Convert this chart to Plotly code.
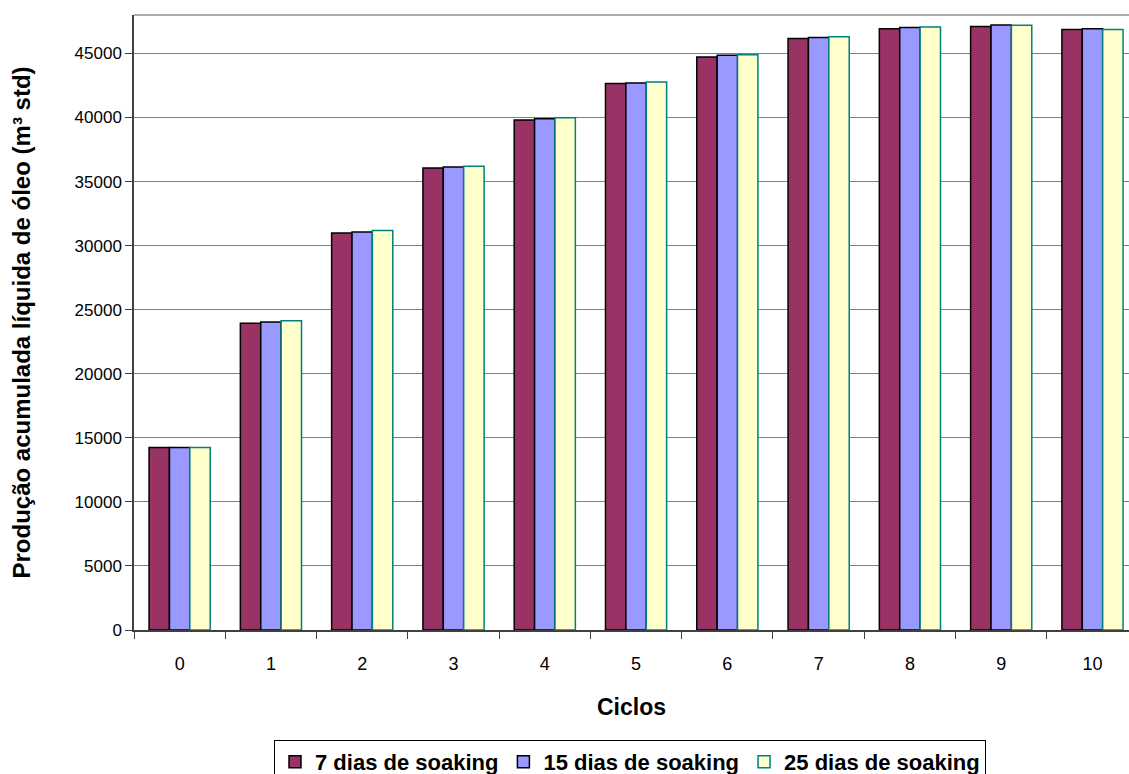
import plotly.graph_objects as go

# Cumulative net oil production per cycle for three soaking durations
ciclos = ["0", "1", "2", "3", "4", "5", "6", "7", "8", "9", "10"]
soak_7 = [14250, 23950, 30990, 36050, 39800, 42650, 44730, 46170, 46920, 47110, 46870]
soak_15 = [14250, 24030, 31070, 36130, 39900, 42700, 44850, 46250, 47030, 47220, 46920]
soak_25 = [14250, 24130, 31190, 36200, 39980, 42780, 44900, 46300, 47060, 47200, 46870]

series_names = ["7 dias de soaking", "15 dias de soaking", "25 dias de soaking"]
fills = ["#993366", "#9999FF", "#FFFFCC"]
outlines = ["#000000", "#000000", "#008080"]

fig = go.Figure()
for name, vals, fc, lc in zip(series_names, [soak_7, soak_15, soak_25], fills, outlines):
    fig.add_trace(go.Bar(
        x=ciclos, y=vals, name=name,
        marker=dict(color=fc, line=dict(color=lc, width=1.5)),
    ))

fig.update_layout(
    width=1129, height=774,
    margin=dict(l=134, r=0, t=15, b=144, autoexpand=False),
    paper_bgcolor="white", plot_bgcolor="white",
    barmode="group", bargap=0.33, bargroupgap=0,
    font=dict(family="Arial, Liberation Sans, sans-serif", color="black", size=18),
    showlegend=True,
    legend=dict(
        orientation="h", x=0.1407, xanchor="left",
        yref="container", y=1 - 740 / 774, yanchor="top",
        bordercolor="black", borderwidth=1, bgcolor="white",
        font=dict(size=22, family="Arial, Liberation Sans, sans-serif", weight="bold"),
        tracegroupgap=0,
    ),
)

fig.update_xaxes(
    type="category", range=[-0.5, 10.4],
    showline=True, linecolor="#404040", linewidth=1.5,
    ticks="outside", ticklen=7, tickcolor="#404040", tickson="boundaries",
    tickfont=dict(size=18), ticklabelstandoff=17,
    showgrid=False,
    title=dict(text="<b>Ciclos</b>", font=dict(size=23), standoff=26),
)
fig.update_yaxes(
    range=[0, 48000], dtick=5000, tick0=0, tickformat="d",
    showline=True, linecolor="#404040", linewidth=1.5,
    ticks="outside", ticklen=7, tickcolor="#404040",
    tickfont=dict(size=17),
    showgrid=True, gridcolor="#808080", gridwidth=1,
    zeroline=False,
    title=dict(text="<b>Produção acumulada líquida de óleo (m³ std)</b>", font=dict(size=24), standoff=37),
)

# Top frame line of the plot area
fig.add_shape(type="line", xref="paper", yref="paper", x0=0, x1=1, y0=1, y1=1,
              line=dict(color="#909090", width=1.5))

fig.write_html("out.html")
